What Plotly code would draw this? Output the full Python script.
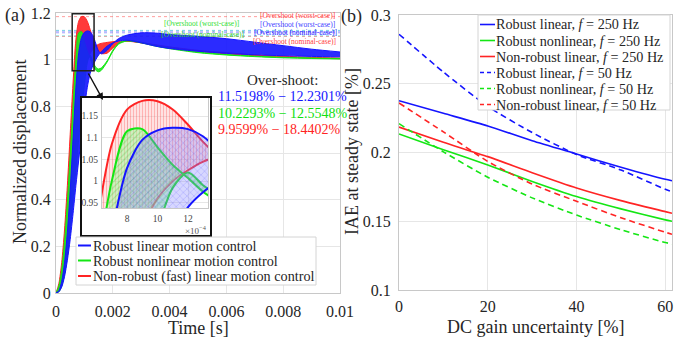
import plotly.graph_objects as go

W, H = 674, 338
SERIF = "Liberation Serif, Times New Roman, serif"
TXT = "#262626"

# ---------------- (a) step responses (time in units of 1e-4 s) ----------------
t_e4 = [0, 1, 2, 3, 4, 5, 6, 7, 8, 9, 10, 11, 12, 13, 14, 15, 16, 18, 20, 22, 25,
        30, 35, 40, 50, 60, 70, 80, 90, 100]
red_fast = [0, 0.04, 0.13, 0.27, 0.46, 0.68, 0.90, 1.085, 1.165, 1.185, 1.184, 1.165, 1.130,
            1.090, 1.058, 1.037, 1.026, 1.028, 1.050, 1.070, 1.080, 1.072, 1.062, 1.053,
            1.036, 1.025, 1.017, 1.011, 1.007, 1.004]
red_slow = [0, 0.01, 0.05, 0.12, 0.22, 0.35, 0.50, 0.65, 0.78, 0.89, 0.96, 1.0, 1.025,
            1.045, 1.058, 1.066, 1.070, 1.074, 1.077, 1.079, 1.079, 1.073, 1.064, 1.055,
            1.040, 1.030, 1.021, 1.015, 1.010, 1.007]
green_fast = [0, 0.03, 0.10, 0.22, 0.39, 0.59, 0.80, 1.0, 1.115, 1.12, 1.078, 1.037, 1.007,
              0.975, 0.955, 0.948, 0.955, 0.99, 1.035, 1.066, 1.08, 1.072, 1.058, 1.047,
              1.03, 1.02, 1.013, 1.008, 1.005, 1.003]
green_slow = [0, 0.005, 0.03, 0.08, 0.16, 0.27, 0.40, 0.53, 0.66, 0.78, 0.89, 0.985, 1.02,
              0.99, 0.968, 0.96, 0.965, 0.995, 1.04, 1.07, 1.083, 1.075, 1.061, 1.05,
              1.033, 1.022, 1.015, 1.01, 1.007, 1.005]
blue_fast = [0, 0.01, 0.05, 0.13, 0.26, 0.44, 0.66, 0.88, 1.03, 1.095, 1.117, 1.123, 1.12,
             1.103, 1.07, 1.037, 1.025, 1.04, 1.068, 1.09, 1.105, 1.115, 1.114, 1.108,
             1.1, 1.09, 1.075, 1.06, 1.045, 1.033]
blue_slow = [0, 0.005, 0.025, 0.07, 0.14, 0.23, 0.34, 0.46, 0.57, 0.68, 0.79, 0.88, 0.94,
             0.975, 1.0, 1.02, 1.035, 1.058, 1.072, 1.08, 1.083, 1.072, 1.058, 1.048,
             1.036, 1.027, 1.021, 1.017, 1.014, 1.012]

# overshoot percentages (nominal, worst)
os_blue = [11.5198, 12.2301]
os_green = [10.2293, 12.5548]
os_red = [9.9599, 18.4402]

a_xticks = [0, 0.002, 0.004, 0.006, 0.008, 0.01]
a_yticks = [0, 0.2, 0.4, 0.6, 0.8, 1, 1.2]
inset_xticks = [8e-4, 10e-4, 12e-4]
inset_xlabels = ["8", "10", "12"]
inset_yticks = [0.95, 1.0, 1.05, 1.1, 1.15]
inset_ylabels = ["0.95", "1", "1.05", "1.1", "1.15"]
inset_xrange = [6.36e-4, 13.31e-4]
inset_yrange = [0.938, 1.194]
zoom_box_x = [5.7e-4, 13.4e-4]
zoom_box_y = [0.952, 1.197]

# ---------------- (b) IAE vs DC gain uncertainty ----------------
dc_gain = [0, 10, 20, 30, 40, 50, 60, 61.5]
blue_250 = [0.2377, 0.2285, 0.2193, 0.2085, 0.1989, 0.1893, 0.1805, 0.1795]
green_250 = [0.2135, 0.202, 0.191, 0.179, 0.168, 0.159, 0.151, 0.150]
red_250 = [0.2185, 0.2075, 0.197, 0.1853, 0.1742, 0.165, 0.157, 0.1558]
blue_50 = [0.286, 0.2585, 0.2335, 0.2145, 0.1985, 0.1873, 0.1732, 0.1715]
green_50 = [0.221, 0.2005, 0.182, 0.167, 0.1545, 0.1438, 0.1345, 0.1335]
red_50 = [0.236, 0.215, 0.1935, 0.177, 0.1645, 0.1525, 0.142, 0.1405]
b_xticks = [0, 20, 40, 60]
b_yticks = [0.1, 0.15, 0.2, 0.25, 0.3]

BLUE, GREEN, RED = "#1414ff", "#14e614", "#ff2424"

t = [v * 1e-4 for v in t_e4]


def px(x):
    return x / W


def py(y):
    return 1 - y / H


fig = go.Figure()

# overshoot reference levels
for os_vals, col in [(os_red, "rgba(255,40,40,0.45)"), (os_blue, "rgba(40,40,255,0.45)"),
                     (os_green, "rgba(0,200,200,0.45)")]:
    for p in os_vals:
        lvl = 1 + p / 100
        fig.add_trace(go.Scatter(x=[a_xticks[0], a_xticks[-1]], y=[lvl, lvl], mode="lines",
                                 line=dict(color=col, width=1, dash="dot"),
                                 showlegend=False, hoverinfo="skip", xaxis="x", yaxis="y"))

main_fill = {RED: "rgba(255,40,40,0.92)", GREEN: "rgba(30,235,30,0.92)", BLUE: "rgba(25,25,255,0.92)"}
families = [(red_fast, red_slow, RED), (green_fast, green_slow, GREEN), (blue_fast, blue_slow, BLUE)]

for fast, slow, col in families:
    fig.add_trace(go.Scatter(x=t, y=slow, mode="lines",
                             line=dict(color=col, width=1, shape="spline", smoothing=0.8),
                             showlegend=False, hoverinfo="skip", xaxis="x", yaxis="y"))
    fig.add_trace(go.Scatter(x=t, y=fast, mode="lines", fill="tonexty", fillcolor=main_fill[col],
                             line=dict(color=col, width=1, shape="spline", smoothing=0.8),
                             showlegend=False, hoverinfo="skip", xaxis="x", yaxis="y"))

# (b) lines
for ys, col, dash in [(blue_250, BLUE, "solid"), (green_250, GREEN, "solid"), (red_250, RED, "solid"),
                      (blue_50, BLUE, "6px,4px"), (green_50, GREEN, "6px,4px"), (red_50, RED, "6px,4px")]:
    fig.add_trace(go.Scatter(x=dc_gain, y=ys, mode="lines",
                             line=dict(color=col, width=1.6, dash=dash, shape="spline", smoothing=0.6),
                             showlegend=False, hoverinfo="skip", xaxis="x2", yaxis="y2"))

# inset frame background (dummy subplot)
fig.add_trace(go.Scatter(x=[0], y=[0], mode="markers", marker=dict(opacity=0),
                         showlegend=False, hoverinfo="skip", xaxis="x3", yaxis="y3"))

inset_style = {
    RED: dict(fill="rgba(255,170,170,0.35)", fg="rgba(255,0,0,0.55)", shape="|", size=3),
    GREEN: dict(fill="rgba(150,255,150,0.45)", fg="rgba(0,190,0,0.55)", shape="/", size=4),
    BLUE: dict(fill="rgba(140,140,255,0.35)", fg="rgba(0,0,255,0.35)", shape="x", size=5),
}
for fast, slow, col in families:
    st = inset_style[col]
    fig.add_trace(go.Scatter(x=t, y=slow, mode="lines",
                             line=dict(color=col, width=2, shape="spline", smoothing=0.8),
                             showlegend=False, hoverinfo="skip", xaxis="x4", yaxis="y4"))
    fig.add_trace(go.Scatter(x=t, y=fast, mode="lines", fill="tonexty", fillcolor=st["fill"],
                             fillpattern=dict(shape=st["shape"], fgcolor=st["fg"], bgcolor=st["fill"],
                                              size=st["size"], solidity=0.25),
                             line=dict(color=col, width=2, shape="spline", smoothing=0.8),
                             showlegend=False, hoverinfo="skip", xaxis="x4", yaxis="y4"))

AX = "#c8c8c8"
GRID = "#e6e6e6"
common = dict(showline=True, linecolor=AX, linewidth=1, mirror=True, showgrid=True,
              gridcolor=GRID, gridwidth=1, zeroline=False, ticks="", automargin=False,
              tickfont=dict(family=SERIF, size=16, color=TXT))

shapes = []
annotations = []

# zoom box in main plot + inset frame
shapes.append(dict(type="rect", xref="x", yref="y", x0=zoom_box_x[0], x1=zoom_box_x[1],
                   y0=zoom_box_y[0], y1=zoom_box_y[1], line=dict(color="#222", width=1.5), layer="above"))
shapes.append(dict(type="rect", xref="paper", yref="paper", x0=px(81), x1=px(211), y0=py(236), y1=py(97),
                   line=dict(color="#111", width=2), layer="above"))
annotations.append(dict(x=px(103), y=py(100), xref="paper", yref="paper", text=" ", showarrow=True,
                        ax=-16, ay=-29, arrowhead=2, arrowsize=1, arrowwidth=1.4, arrowcolor="#111",
                        font=dict(size=2)))
annotations.append(dict(x=px(209), y=py(230), xref="paper", yref="paper", text="×10<sup>−4</sup>",
                        showarrow=False, xanchor="right", yanchor="middle",
                        font=dict(family=SERIF, size=9, color="#555")))

# overshoot labels
small = lambda c: dict(family=SERIF, size=7.5, color=c)
lab = "[Overshoot (worst-case)]"
labn = "[Overshoot (nominal-case)]"
for txt, xx, yy, anc, c in [(lab, 337, 15.5, "right", "#ff4040"), (lab, 337, 24.5, "right", "#4040ff"),
                            (lab, 241, 23.5, "right", "#30e030"), (labn, 246, 34.5, "right", "#30d030"),
                            (labn, 339, 32.5, "right", "#2020ff"), (labn, 338, 42, "right", "#ff4040")]:
    annotations.append(dict(x=px(xx), y=py(yy), xref="paper", yref="paper", text=txt, showarrow=False,
                            xanchor=anc, yanchor="middle", font=small(c)))

annotations.append(dict(x=px(282), y=py(80), xref="paper", yref="paper", text="Over-shoot:",
                        showarrow=False, xanchor="center", yanchor="middle",
                        font=dict(family=SERIF, size=15, color=TXT)))
for vals, yy, c in [(os_blue, 96, BLUE), (os_green, 113, "#10e010"), (os_red, 129, RED)]:
    annotations.append(dict(x=px(216), y=py(yy), xref="paper", yref="paper",
                            text=f"{vals[0]:.4f}% − {vals[1]:.4f}%", showarrow=False,
                            xanchor="left", yanchor="middle", font=dict(family=SERIF, size=14, color=c)))

# panel labels and axis titles
for txt, xx, yy, ang in [("(a)", 15, 15, 0), ("(b)", 351, 16, 0),
                         ("Normalized displacement", 20, 152, -90), ("Time [s]", 198, 328, 0),
                         ("IAE at steady state [%]", 352, 152, -90), ("DC gain uncertainty [%]", 535, 327, 0)]:
    annotations.append(dict(x=px(xx), y=py(yy), xref="paper", yref="paper", text=txt, showarrow=False,
                            textangle=ang, xanchor="center", yanchor="middle",
                            font=dict(family=SERIF, size=18, color=TXT)))

# legend (a)
shapes.append(dict(type="rect", xref="paper", yref="paper", x0=px(76), x1=px(316), y0=py(285), y1=py(237),
                   line=dict(color="#d4d4d4", width=1), fillcolor="white", layer="above"))
for txt, yy, c in [("Robust linear motion control", 245.5, BLUE),
                   ("Robust nonlinear motion control", 260.5, GREEN),
                   ("Non-robust (fast) linear motion control", 276, RED)]:
    shapes.append(dict(type="line", xref="paper", yref="paper", x0=px(78), x1=px(91), y0=py(yy), y1=py(yy),
                       line=dict(color=c, width=2), layer="above"))
    annotations.append(dict(x=px(91), y=py(yy), xref="paper", yref="paper", text=txt, showarrow=False,
                            xanchor="left", yanchor="middle", font=dict(family=SERIF, size=14.2, color=TXT)))

# legend (b)
shapes.append(dict(type="rect", xref="paper", yref="paper", x0=px(478), x1=px(670), y0=py(110), y1=py(15),
                   line=dict(color="#d4d4d4", width=1), fillcolor="white", layer="above"))
leg_b = [("Robust linear, <i>f</i> = 250 Hz", BLUE, "solid"),
         ("Robust nonlinear, <i>f</i> = 250 Hz", GREEN, "solid"),
         ("Non-robust linear, <i>f</i> = 250 Hz", RED, "solid"),
         ("Robust linear, <i>f</i> = 50 Hz", BLUE, "4px,3px"),
         ("Robust nonlinear, <i>f</i> = 50 Hz", GREEN, "4px,3px"),
         ("Non-robust linear, <i>f</i> = 50 Hz", RED, "4px,3px")]
for i, (txt, c, dash) in enumerate(leg_b):
    yy = 24.5 + i * 16
    shapes.append(dict(type="line", xref="paper", yref="paper", x0=px(480), x1=px(495), y0=py(yy), y1=py(yy),
                       line=dict(color=c, width=1.6, dash=dash), layer="above"))
    annotations.append(dict(x=px(494), y=py(yy), xref="paper", yref="paper", text=txt, showarrow=False,
                            xanchor="left", yanchor="middle", font=dict(family=SERIF, size=14.2, color=TXT)))

fig.update_layout(
    width=W, height=H, autosize=False,
    margin=dict(l=0, r=0, t=0, b=0, pad=0),
    paper_bgcolor="white", plot_bgcolor="white",
    font=dict(family=SERIF, color=TXT),
    showlegend=False,
    xaxis=dict(domain=[px(56), px(340)], range=[a_xticks[0], a_xticks[-1]], anchor="y",
               tickvals=a_xticks, ticklabelstandoff=4, **common),
    yaxis=dict(domain=[py(293), py(13)], range=[a_yticks[0], a_yticks[-1]], anchor="x",
               tickvals=a_yticks, ticklabelstandoff=1, **common),
    xaxis2=dict(domain=[px(399), px(672)], range=[0, 61.5], anchor="y2",
                tickvals=b_xticks, ticklabelstandoff=2, **common),
    yaxis2=dict(domain=[py(290), py(15)], range=[b_yticks[0], b_yticks[-1]], anchor="x2",
                tickvals=b_yticks, ticklabelstandoff=4, **common),
    xaxis3=dict(domain=[px(81), px(211)], range=[0, 1], anchor="y3", visible=False),
    yaxis3=dict(domain=[py(236), py(97)], range=[0, 1], anchor="x3", visible=False),
    xaxis4=dict(domain=[px(102), px(208)], range=inset_xrange, anchor="y4",
                tickvals=inset_xticks, ticktext=inset_xlabels,
                showline=True, linecolor=AX, mirror=True, showgrid=True, gridcolor=GRID,
                zeroline=False, ticks="", automargin=False, ticklabelstandoff=2,
                tickfont=dict(family=SERIF, size=9.5, color="#444")),
    yaxis4=dict(domain=[py(208), py(97)], range=inset_yrange, anchor="x4",
                tickvals=inset_yticks, ticktext=inset_ylabels,
                showline=True, linecolor=AX, mirror=True, showgrid=True, gridcolor=GRID,
                zeroline=False, ticks="", automargin=False, ticklabelstandoff=1,
                tickfont=dict(family=SERIF, size=9.5, color="#444")),
    shapes=shapes,
    annotations=annotations,
)

fig.write_html("out.html", config={"displayModeBar": False},
               post_script="document.body.style.margin='0px';document.body.style.overflow='hidden';")
